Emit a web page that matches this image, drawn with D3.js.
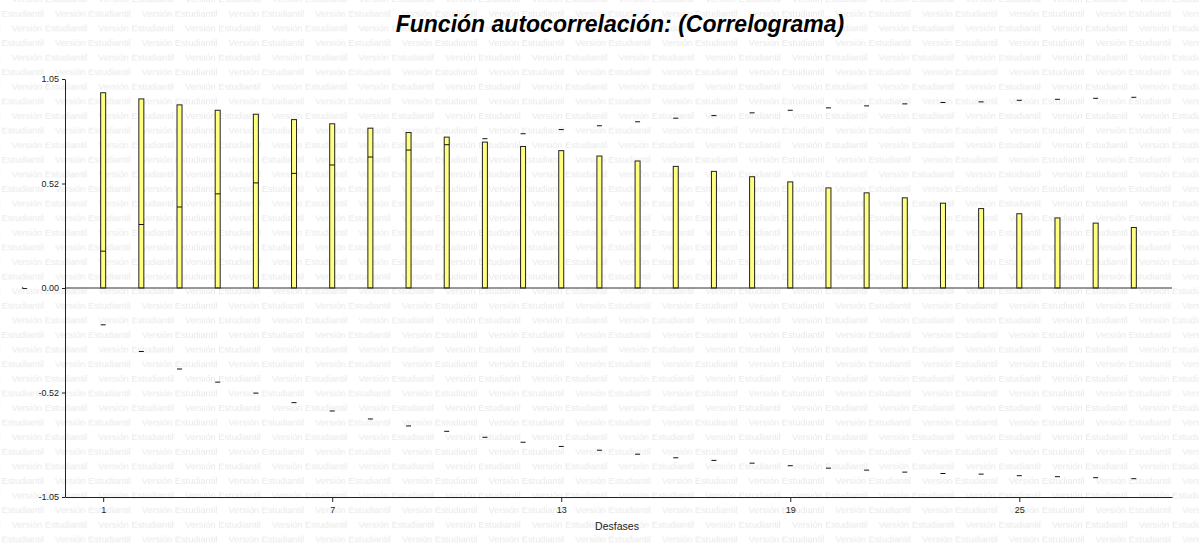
<!DOCTYPE html>
<html>
<head>
<meta charset="utf-8">
<script src="https://cdn.jsdelivr.net/npm/d3@7"></script>
<style>
  body { margin: 0; background: #fff; }
  text { font-family: "Liberation Sans", Arial, sans-serif; }
</style>
</head>
<body>
<svg id="chart"></svg>
<script>
// lags (desfases)
var lags = [1, 2, 3, 4, 5, 6, 7, 8, 9, 10, 11, 12, 13, 14, 15, 16, 17, 18, 19, 20, 21, 22, 23, 24, 25, 26, 27, 28];
// autocorrelation per lag
var acf = [0.981, 0.950, 0.920, 0.893, 0.873, 0.846, 0.825, 0.803, 0.781, 0.758, 0.733, 0.711, 0.690, 0.663,
           0.638, 0.611, 0.586, 0.559, 0.533, 0.503, 0.478, 0.453, 0.426, 0.399, 0.373, 0.352, 0.326, 0.304];
// confidence limits (+/-)
var band = [0.185, 0.319, 0.407, 0.473, 0.528, 0.576, 0.618, 0.658, 0.693, 0.720, 0.750, 0.775, 0.796, 0.815,
            0.835, 0.853, 0.866, 0.880, 0.893, 0.905, 0.915, 0.925, 0.932, 0.935, 0.943, 0.948, 0.953, 0.958];
var xTicks = [1, 7, 13, 19, 25];
var yTicks = [1.05, 0.525, 0, -0.525, -1.05];
var yTickLabels = ["1.05", "0.52", "0.00", "-0.52", "-1.05"];

var width = 1199;
var height = 543;

var svg = d3.select("#chart")
            .attr("width", width)
            .attr("height", height);

// watermark
var wmW = 86.7, wmH = 29.2;
var pat = svg.append("defs").append("pattern")
            .attr("id", "wm")
            .attr("patternUnits", "userSpaceOnUse")
            .attr("x", 11.7)
            .attr("y", 90 - 10 - wmH * 2)
            .attr("width", wmW)
            .attr("height", wmH);
[[0, 10], [wmW / 2, 10 + wmH / 2], [-wmW / 2, 10 + wmH / 2]].forEach(function(p){
  pat.append("text")
     .attr("x", p[0])
     .attr("y", p[1])
     .attr("font-size", "9.2px")
     .attr("fill", "#e8e8e8")
     .text("Versión Estudiantil");
});
svg.append("rect")
   .attr("width", width)
   .attr("height", height)
   .attr("fill", "url(#wm)");

var x = d3.scaleLinear().domain([0, 29]).range([65, 1172]);
var y = d3.scaleLinear().domain([-1.05, 1.05]).range([497, 79]);
var barWidth = 5;

// bars
svg.selectAll(".bar")
   .data(lags)
   .enter()
   .append("rect")
   .attr("class", "bar")
   .attr("x", function(d){ return x(d) - barWidth / 2; })
   .attr("y", function(d, i){ return y(acf[i]); })
   .attr("width", barWidth)
   .attr("height", function(d, i){ return y(0) - y(acf[i]); })
   .attr("fill", "#ffff80")
   .attr("stroke", "#222")
   .attr("stroke-width", 1);

// confidence limit marks
[1, -1].forEach(function(s){
  svg.selectAll(".lim" + s)
     .data(lags)
     .enter()
     .append("line")
     .attr("x1", function(d){ return x(d) - barWidth / 2; })
     .attr("x2", function(d){ return x(d) + barWidth / 2; })
     .attr("y1", function(d, i){ return y(s * band[i]); })
     .attr("y2", function(d, i){ return y(s * band[i]); })
     .attr("stroke", "#111")
     .attr("stroke-width", 1);
});

// zero line
svg.append("line")
   .attr("x1", x(0)).attr("x2", x(29))
   .attr("y1", y(0)).attr("y2", y(0))
   .attr("stroke", "#333");

// axes
var xAxis = d3.axisBottom(x).tickValues(xTicks).tickSize(5).tickSizeOuter(0);
var gx = svg.append("g")
            .attr("transform", "translate(0," + y(-1.05) + ")")
            .call(xAxis);
gx.selectAll("text").attr("font-size", "9px").attr("font-family", null).attr("dy", "0.9em");

var yAxis = d3.axisLeft(y).tickValues(yTicks).tickSize(3).tickSizeOuter(0)
              .tickFormat(function(d, i){ return yTickLabels[i]; });
var gy = svg.append("g")
            .attr("transform", "translate(" + x(0) + ",0)")
            .call(yAxis);
gy.selectAll("text").attr("font-size", "9px").attr("font-family", null);

svg.selectAll(".domain").attr("stroke", "#222");
svg.selectAll(".tick line").attr("stroke", "#222");
svg.selectAll(".tick text").attr("fill", "#222");

// titles
svg.append("text")
   .attr("x", 620)
   .attr("y", 32)
   .attr("text-anchor", "middle")
   .attr("font-size", "23px")
   .attr("font-weight", "bold")
   .attr("font-style", "italic")
   .text("Función autocorrelación: (Correlograma)");

svg.append("text")
   .attr("x", 617)
   .attr("y", 530)
   .attr("text-anchor", "middle")
   .attr("font-size", "10.5px")
   .attr("fill", "#222")
   .text("Desfases");

svg.append("text")
   .attr("transform", "translate(27," + y(0) + ") rotate(-90)")
   .attr("text-anchor", "middle")
   .attr("font-size", "9px")
   .attr("fill", "#222")
   .text("r");
</script>
</body>
</html>
